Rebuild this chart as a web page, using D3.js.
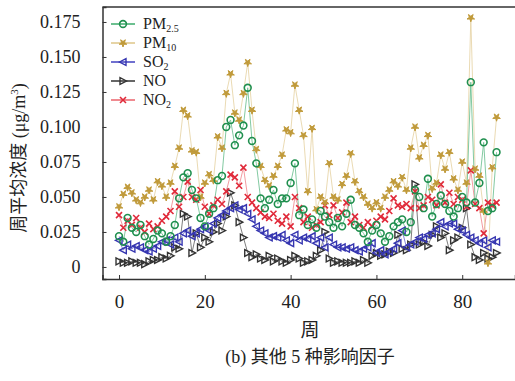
<!DOCTYPE html>
<html>
<head>
<meta charset="utf-8">
<script src="https://cdn.jsdelivr.net/npm/d3@7"></script>
<style>
  body { margin: 0; background: #fff; }
  svg text { font-family: "Liberation Serif", "Noto Sans CJK SC", serif; fill: #222; }
</style>
</head>
<body>
<svg id="chart" width="515" height="381"></svg>
<script>
// weekly means, weeks 0..88
var weeks = d3.range(0, 89);
var pm25 = [0.022,0.018,0.035,0.028,0.025,0.030,0.022,0.016,0.020,0.026,
  0.024,0.018,0.022,0.030,0.049,0.064,0.067,0.055,0.049,0.035,
  0.029,0.038,0.042,0.062,0.065,0.100,0.105,0.087,0.094,0.101,
  0.128,0.090,0.074,0.049,0.042,0.048,0.055,0.045,0.049,0.049,
  0.060,0.074,0.037,0.041,0.030,0.034,0.028,0.040,0.036,0.032,
  0.028,0.035,0.029,0.038,0.048,0.030,0.028,0.024,0.018,0.026,
  0.030,0.024,0.018,0.022,0.029,0.032,0.034,0.025,0.032,0.055,
  0.050,0.042,0.063,0.036,0.045,0.051,0.045,0.040,0.036,0.042,
  0.050,0.046,0.132,0.046,0.060,0.089,0.040,0.042,0.082];
var pm10 = [0.043,0.052,0.057,0.053,0.048,0.046,0.050,0.055,0.048,0.061,
  0.058,0.050,0.060,0.072,0.085,0.112,0.108,0.083,0.082,0.050,
  0.060,0.066,0.062,0.093,0.085,0.124,0.138,0.110,0.105,0.124,
  0.146,0.112,0.084,0.072,0.062,0.058,0.065,0.072,0.080,0.098,
  0.096,0.130,0.112,0.094,0.054,0.099,0.041,0.050,0.046,0.074,
  0.050,0.048,0.059,0.065,0.081,0.061,0.054,0.050,0.045,0.042,
  0.046,0.042,0.050,0.055,0.061,0.058,0.064,0.055,0.085,0.100,
  0.078,0.087,0.094,0.056,0.060,0.080,0.070,0.082,0.063,0.055,
  0.075,0.060,0.178,0.070,0.065,0.040,0.003,0.071,0.107];
var so2 = [0.019,0.012,0.016,0.013,0.015,0.014,0.012,0.011,0.013,0.015,
  0.018,0.019,0.016,0.021,0.018,0.024,0.026,0.022,0.024,0.027,
  0.029,0.026,0.031,0.035,0.037,0.040,0.042,0.044,0.041,0.042,
  0.038,0.034,0.029,0.026,0.024,0.021,0.022,0.021,0.023,0.019,
  0.017,0.023,0.019,0.021,0.020,0.022,0.017,0.021,0.014,0.021,
  0.016,0.014,0.014,0.013,0.014,0.012,0.011,0.013,0.014,0.017,
  0.010,0.012,0.009,0.011,0.013,0.017,0.026,0.014,0.016,0.018,
  0.021,0.020,0.023,0.024,0.027,0.032,0.029,0.031,0.031,0.027,
  0.026,0.023,0.021,0.019,0.017,0.019,0.014,0.019,0.018];
var no = [0.004,0.003,0.003,0.004,0.003,0.003,0.002,0.004,0.005,0.005,
  0.007,0.006,0.008,0.014,0.013,0.038,0.036,0.010,0.024,0.014,
  0.021,0.018,0.025,0.031,0.026,0.036,0.053,0.044,0.032,0.021,
  0.010,0.007,0.009,0.006,0.005,0.008,0.004,0.006,0.004,0.003,
  0.005,0.008,0.006,0.003,0.004,0.005,0.008,0.012,0.025,0.006,
  0.003,0.004,0.003,0.003,0.003,0.004,0.003,0.005,0.003,0.008,
  0.010,0.008,0.009,0.011,0.010,0.023,0.013,0.012,0.016,0.059,
  0.016,0.018,0.015,0.023,0.029,0.021,0.024,0.012,0.019,0.021,
  0.028,0.042,0.016,0.007,0.005,0.010,0.006,0.007,0.010];
var no2 = [0.037,0.028,0.033,0.030,0.035,0.028,0.025,0.031,0.027,0.029,
  0.033,0.036,0.040,0.054,0.043,0.050,0.061,0.050,0.048,0.055,
  0.043,0.038,0.044,0.048,0.045,0.054,0.066,0.064,0.058,0.071,
  0.050,0.046,0.042,0.039,0.036,0.035,0.038,0.033,0.031,0.036,
  0.029,0.050,0.042,0.032,0.036,0.028,0.030,0.032,0.044,0.037,
  0.044,0.035,0.039,0.046,0.032,0.036,0.030,0.028,0.032,0.029,
  0.033,0.036,0.034,0.040,0.049,0.044,0.043,0.045,0.042,0.054,
  0.042,0.044,0.050,0.048,0.044,0.059,0.046,0.053,0.045,0.050,
  0.048,0.043,0.069,0.045,0.042,0.024,0.046,0.044,0.046];

var yTicks = [0, 0.025, 0.05, 0.075, 0.1, 0.125, 0.15, 0.175];
var xTicks = [0, 20, 40, 60, 80];

var svg = d3.select("#chart");
var box = { left: 102.5, right: 515, top: 7, bottom: 279 };

var x = d3.scaleLinear().domain([-3.85, 92.3]).range([box.left, box.right]);
var y = d3.scaleLinear().domain([-0.0086, 0.1857]).range([box.bottom, box.top]);

// series, drawn back to front
var series = [
  { name: "NO", values: no, stroke: "#333", line: "#666", marker: "triR" },
  { name: "SO2", values: so2, stroke: "#3535b0", line: "#7070d0", marker: "triL" },
  { name: "NO2", values: no2, stroke: "#e02a3a", line: "#f08a90", marker: "x" },
  { name: "PM10", values: pm10, stroke: "#c09a3a", line: "#e6d4a6", marker: "star" },
  { name: "PM2.5", values: pm25, stroke: "#1f8f4e", line: "#6cc090", marker: "circle" }
];

function drawMarker(g, type, s) {
  if (type == "circle") {
    g.append("circle").attr("r", 3.4).attr("fill", "none")
      .attr("stroke", s.stroke).attr("stroke-width", 1.6);
  } else if (type == "star") {
    g.append("path").attr("d", d3.symbol(d3.symbolStar, 18)())
      .attr("transform", "rotate(180)")
      .attr("fill", s.stroke).attr("stroke", s.stroke).attr("stroke-width", 1)
      .attr("stroke-linejoin", "round");
  } else if (type == "triL") {
    g.append("path").attr("d", "M-3.6,0L3,-3.4L3,3.4Z").attr("fill", "none")
      .attr("stroke", s.stroke).attr("stroke-width", 1.4);
  } else if (type == "triR") {
    g.append("path").attr("d", "M3.6,0L-3,-3.4L-3,3.4Z").attr("fill", "none")
      .attr("stroke", s.stroke).attr("stroke-width", 1.4);
  } else if (type == "x") {
    g.append("path").attr("d", "M-3,-3L3,3M-3,3L3,-3").attr("fill", "none")
      .attr("stroke", s.stroke).attr("stroke-width", 1.6);
  }
}

var line = d3.line().x(function(d, i) { return x(weeks[i]); }).y(function(d) { return y(d); });

var plot = svg.append("g");
series.forEach(function(s) {
  plot.append("path").datum(s.values)
    .attr("fill", "none").attr("stroke", s.line)
    .attr("stroke-width", 1).attr("opacity", 0.85)
    .attr("d", line);
});
series.forEach(function(s) {
  plot.selectAll(null).data(s.values).enter().append("g")
    .attr("transform", function(d, i) { return "translate(" + x(weeks[i]) + "," + y(d) + ")"; })
    .each(function() { drawMarker(d3.select(this), s.marker, s); });
});

// frame
svg.append("line").attr("x1", box.left).attr("x2", box.right).attr("y1", box.top).attr("y2", box.top)
  .attr("stroke", "#333").attr("stroke-width", 1.5);

var yAxis = svg.append("g").attr("transform", "translate(" + box.left + ",0)")
  .call(d3.axisLeft(y).tickValues(yTicks).tickSize(-4).tickPadding(22)
    .tickFormat(function(d) { return d === 0 ? "0" : d3.format(".3f")(d); }));
yAxis.select(".domain").attr("stroke", "#333").attr("stroke-width", 1.5);
yAxis.selectAll("text").attr("font-size", 18).style("font-family", "Liberation Serif");

var xAxis = svg.append("g").attr("transform", "translate(0," + box.bottom + ")")
  .call(d3.axisBottom(x).tickValues(xTicks).tickSize(-4).tickPadding(16));
xAxis.select(".domain").attr("stroke", "#333").attr("stroke-width", 1.5);
xAxis.selectAll("text").attr("font-size", 19).style("font-family", "Liberation Serif");
svg.selectAll(".tick line").attr("stroke", "#333");

// legend
var legendNames = [["PM", "2.5"], ["PM", "10"], ["SO", "2"], ["NO", ""], ["NO", "2"]];
var legendOrder = [4, 3, 1, 0, 2];
var legend = svg.append("g");
legendOrder.forEach(function(si, k) {
  var s = series[si];
  var ly = 24 + k * 19;
  legend.append("line").attr("x1", 111).attr("x2", 135).attr("y1", ly).attr("y2", ly)
    .attr("stroke", s.line).attr("stroke-width", 2);
  var g = legend.append("g").attr("transform", "translate(123," + ly + ")");
  drawMarker(g, s.marker, s);
  var t = legend.append("text").attr("x", 143).attr("y", ly + 5).attr("font-size", 16);
  t.append("tspan").text(legendNames[k][0]);
  if (legendNames[k][1]) {
    t.append("tspan").attr("font-size", 10).attr("dy", 3).text(legendNames[k][1]);
  }
});

// titles
svg.append("text").attr("transform", "translate(25,158) rotate(-90)")
  .attr("text-anchor", "middle").attr("font-size", 18)
  .html('周平均浓度 (μg/m<tspan font-size="11" dy="-7">3</tspan><tspan dy="7">)</tspan>');
svg.append("text").attr("x", 310).attr("y", 337).attr("text-anchor", "middle")
  .attr("font-size", 19).text("周");
svg.append("text").attr("x", 310).attr("y", 363).attr("text-anchor", "middle")
  .attr("font-size", 18).text("(b) 其他 5 种影响因子");
</script>
</body>
</html>
